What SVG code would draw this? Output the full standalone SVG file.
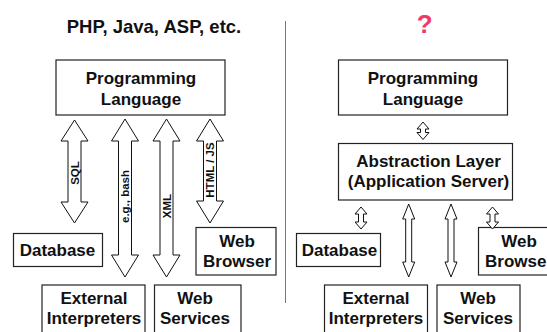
<svg xmlns="http://www.w3.org/2000/svg" width="547" height="332" viewBox="0 0 547 332">
  <style>
    .box { fill: #fff; stroke: #222; stroke-width: 1.2; }
    .lbl { font-family: "Liberation Sans", Arial, sans-serif; font-weight: bold; font-size: 17px; fill: #111; text-anchor: middle; }
    .alb { font-family: "Liberation Sans", Arial, sans-serif; font-weight: bold; font-size: 11.5px; fill: #111; text-anchor: middle; }
    .arr { fill: #fff; stroke: #111; stroke-width: 1; stroke-linejoin: miter; }
    .title { font-family: "Liberation Sans", Arial, sans-serif; font-weight: bold; font-size: 18.5px; fill: #111; text-anchor: middle; }
  </style>
  <rect width="547" height="332" fill="#fff"/>

  <!-- headings and divider -->
  <text class="title" x="154" y="33">PHP, Java, ASP, etc.</text>
  <text x="424.7" y="32.7" font-family="Liberation Sans, Arial, sans-serif" font-weight="bold" font-size="26" fill="#f2386c" text-anchor="middle">?</text>
  <line x1="285.5" y1="21" x2="285.5" y2="303" stroke="#777" stroke-width="1"/>

  <!-- left: direct access -->
  <g id="pl-left">
    <rect class="box" x="56" y="60" width="169" height="55"/>
    <text class="lbl" x="141" y="84">Programming</text>
    <text class="lbl" x="141" y="105">Language</text>
  </g>
  <g id="db-left">
    <rect class="box" x="13.5" y="233.5" width="89" height="33"/>
    <text class="lbl" x="57.5" y="256">Database</text>
  </g>
  <g id="browser-left">
    <rect class="box" x="196" y="227.5" width="80" height="47.5"/>
    <text class="lbl" x="237" y="247">Web</text>
    <text class="lbl" x="237" y="267">Browser</text>
  </g>
  <g id="interp-left">
    <rect class="box" x="42" y="285" width="103" height="50"/>
    <text class="lbl" x="94" y="304">External</text>
    <text class="lbl" x="94" y="324">Interpreters</text>
  </g>
  <g id="ws-left">
    <rect class="box" x="154.5" y="285" width="86.5" height="50"/>
    <text class="lbl" x="195" y="304">Web</text>
    <text class="lbl" x="195" y="324">Services</text>
  </g>

  <!-- right: through an abstraction layer -->
  <g id="pl-right">
    <rect class="box" x="338.5" y="60" width="169" height="55"/>
    <text class="lbl" x="423" y="84">Programming</text>
    <text class="lbl" x="423" y="105">Language</text>
  </g>
  <g id="abstraction">
    <rect class="box" x="338.5" y="143.5" width="174" height="56.5"/>
    <text class="lbl" x="428.5" y="167">Abstraction Layer</text>
    <text class="lbl" x="428.5" y="187">(Application Server)</text>
  </g>
  <g id="db-right">
    <rect class="box" x="296.5" y="233.5" width="84" height="33"/>
    <text class="lbl" x="339.5" y="256">Database</text>
  </g>
  <g id="browser-right">
    <rect class="box" x="478.5" y="227.5" width="80" height="47.5"/>
    <text class="lbl" x="519" y="247">Web</text>
    <text class="lbl" x="519" y="267">Browser</text>
  </g>
  <g id="interp-right">
    <rect class="box" x="324.5" y="285" width="103" height="50"/>
    <text class="lbl" x="376" y="304">External</text>
    <text class="lbl" x="376" y="324">Interpreters</text>
  </g>
  <g id="ws-right">
    <rect class="box" x="437" y="285" width="83" height="50"/>
    <text class="lbl" x="478" y="304">Web</text>
    <text class="lbl" x="478" y="324">Services</text>
  </g>

  <!-- connectors: hollow double-headed block arrows -->
  <g id="connectors">
    <path class="arr" d="M74.5,120 L88,141 L81,141 L81,202 L88,202 L74.5,223 L61,202 L68,202 L68,141 L61,141 Z"/>
    <path class="arr" d="M125,119 L138.5,141 L131.5,141 L131.5,255 L138.5,255 L125,277 L111.5,255 L118.5,255 L118.5,141 L111.5,141 Z"/>
    <path class="arr" d="M166.5,119 L180,141 L173,141 L173,255 L180,255 L166.5,277 L153,255 L160,255 L160,141 L153,141 Z"/>
    <path class="arr" d="M210,119 L223.5,141 L216.5,141 L216.5,201 L223.5,201 L210,223 L196.5,201 L203.5,201 L203.5,141 L196.5,141 Z"/>
    <text class="alb" transform="translate(78.5,173) rotate(-90)">SQL</text>
    <text class="alb" transform="translate(129,196.5) rotate(-90)">e.g., bash</text>
    <text class="alb" transform="translate(170.5,206) rotate(-90)">XML</text>
    <text class="alb" transform="translate(214,170) rotate(-90)">HTML / JS</text>

    <path class="arr" d="M423,122 L429,129 L425.5,129 L425.5,132.5 L429,132.5 L423,139.5 L417,132.5 L420.5,132.5 L420.5,129 L417,129 Z"/>
    <path class="arr" d="M361,207 L367,214 L363.5,214 L363.5,222 L367,222 L361,229 L355,222 L358.5,222 L358.5,214 L355,214 Z"/>
    <path class="arr" d="M492.5,207 L498.5,214 L495,214 L495,222 L498.5,222 L492.5,229 L486.5,222 L490,222 L490,214 L486.5,214 Z"/>
    <path class="arr" d="M408.7,204 L414.7,219 L411.7,219 L411.7,262 L414.7,262 L408.7,277 L402.7,262 L405.7,262 L405.7,219 L402.7,219 Z"/>
    <path class="arr" d="M451,204 L457,219 L454,219 L454,262 L457,262 L451,277 L445,262 L448,262 L448,219 L445,219 Z"/>
  </g>
</svg>
